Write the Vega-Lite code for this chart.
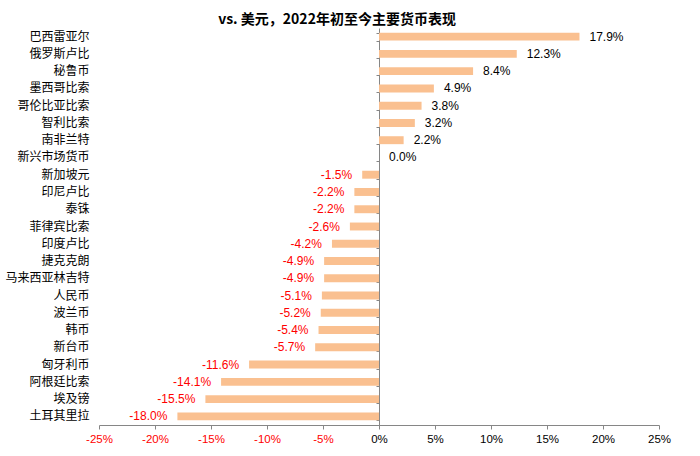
{
  "$schema": "https://vega.github.io/schema/vega-lite/v6.json",
  "description": "vs. 美元，2022年初至今主要货币表现",
  "autosize": "none",
  "width": 560,
  "height": 397,
  "padding": {"left": 99, "top": 28, "right": 41, "bottom": 31},
  "background": "white",
  "title": {
    "text": "vs. 美元，2022年初至今主要货币表现",
    "font": "Noto Sans CJK SC",
    "fontSize": 14,
    "fontWeight": "bold",
    "color": "black",
    "anchor": "middle",
    "dx": -42,
    "offset": 1
  },
  "config": {
    "view": {"stroke": null},
    "axis": {"grid": false}
  },
  "data": {
    "values": [
      {"currency": "巴西雷亚尔", "value": 17.9},
      {"currency": "俄罗斯卢比", "value": 12.3},
      {"currency": "秘鲁币", "value": 8.4},
      {"currency": "墨西哥比索", "value": 4.9},
      {"currency": "哥伦比亚比索", "value": 3.8},
      {"currency": "智利比索", "value": 3.2},
      {"currency": "南非兰特", "value": 2.2},
      {"currency": "新兴市场货币", "value": 0.0},
      {"currency": "新加坡元", "value": -1.5},
      {"currency": "印尼卢比", "value": -2.2},
      {"currency": "泰铢", "value": -2.2},
      {"currency": "菲律宾比索", "value": -2.6},
      {"currency": "印度卢比", "value": -4.2},
      {"currency": "捷克克朗", "value": -4.9},
      {"currency": "马来西亚林吉特", "value": -4.9},
      {"currency": "人民币", "value": -5.1},
      {"currency": "波兰币", "value": -5.2},
      {"currency": "韩币", "value": -5.4},
      {"currency": "新台币", "value": -5.7},
      {"currency": "匈牙利币", "value": -11.6},
      {"currency": "阿根廷比索", "value": -14.1},
      {"currency": "埃及镑", "value": -15.5},
      {"currency": "土耳其里拉", "value": -18.0}
    ]
  },
  "resolve": {"axis": {"y": "independent"}},
  "layer": [
    {
      "mark": {"type": "bar", "color": "#FAC090"},
      "encoding": {
        "y": {
          "field": "currency",
          "type": "nominal",
          "sort": null,
          "scale": {"paddingInner": 0.54, "paddingOuter": 0.27},
          "axis": {
            "title": null,
            "orient": "left",
            "domain": false,
            "ticks": false,
            "tickSize": 0,
            "labelPadding": 10,
            "labelFont": "Noto Sans CJK SC",
            "labelFontSize": 12,
            "labelColor": "black"
          }
        },
        "x": {
          "field": "value",
          "type": "quantitative",
          "scale": {"domain": [-25, 25], "nice": false},
          "axis": {
            "title": null,
            "values": [-25, -20, -15, -10, -5, 0, 5, 10, 15, 20, 25],
            "labelExpr": "datum.value + '%'",
            "labelFont": "Liberation Sans",
            "labelFontSize": 11.5,
            "labelColor": {"expr": "datum.value < 0 ? '#FF0000' : 'black'"},
            "labelPadding": 4,
            "domainColor": "#868686",
            "tickColor": "#868686",
            "tickSize": 4,
            "labelFlush": false
          }
        }
      }
    },
    {
      "mark": {"type": "rule", "opacity": 0},
      "encoding": {
        "y": {
          "field": "currency",
          "type": "nominal",
          "sort": null,
          "axis": {
            "title": null,
            "orient": "right",
            "offset": -280,
            "labels": false,
            "domainColor": "#868686",
            "tickColor": "#868686",
            "tickSize": -3,
            "tickBand": "extent"
          }
        },
        "x": {"datum": 0, "type": "quantitative"}
      }
    },
    {
      "transform": [
        {"calculate": "(datum.value < 0 ? '-' : '') + format(abs(datum.value), '.1f') + '%'", "as": "label"}
      ],
      "mark": {
        "type": "text",
        "font": "Liberation Sans",
        "fontSize": 12,
        "baseline": "middle",
        "align": {"expr": "datum.value < 0 ? 'right' : 'left'"},
        "dx": {"expr": "datum.value < 0 ? -10 : 10"}
      },
      "encoding": {
        "y": {"field": "currency", "type": "nominal", "sort": null, "axis": null},
        "x": {"field": "value", "type": "quantitative"},
        "text": {"field": "label", "type": "nominal"},
        "color": {
          "condition": {"test": "datum.value < 0", "value": "#FF0000"},
          "value": "black"
        }
      }
    }
  ]
}
